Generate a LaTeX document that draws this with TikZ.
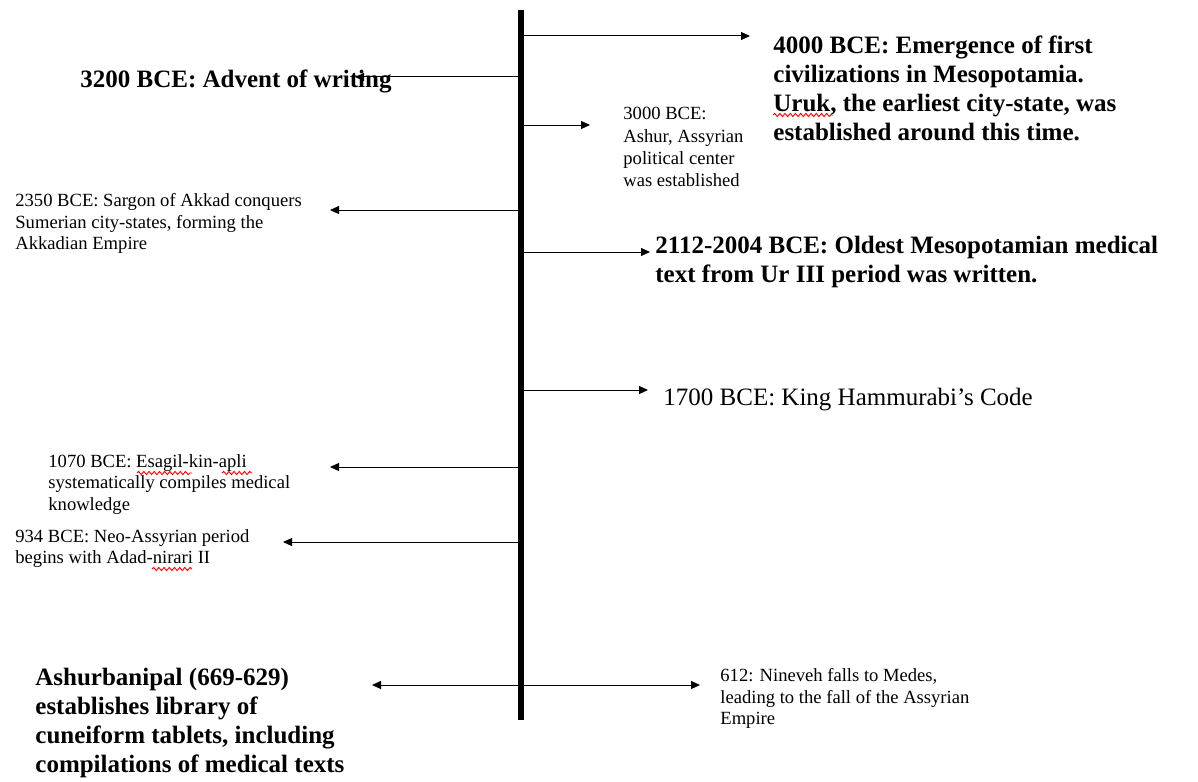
\documentclass[tikz,border=0pt]{standalone}
\usepackage{fontspec}
\setmainfont{Liberation Serif}
\usepackage{tikz}
\usetikzlibrary{positioning,arrows.meta,decorations.pathmorphing}

\begin{document}
\begin{tikzpicture}[x=0.5pt,y=-0.5pt,
spine/.style={line width=3pt},
evt/.style={line width=0.5pt,-{Triangle[length=4.5pt,width=4pt]}},
evtboth/.style={line width=0.5pt,{Triangle[length=4.5pt,width=4pt]}-{Triangle[length=4.5pt,width=4pt]}},
bigtxt/.style={anchor=north west,inner sep=0pt,align=left,font=\fontsize{12.5}{14.5}\selectfont\bfseries},
midtxt/.style={anchor=north west,inner sep=0pt,align=left,font=\fontsize{12.5}{14.5}\selectfont},
smalltxt/.style={anchor=north west,inner sep=0pt,align=left,font=\fontsize{9.3}{10.8}\selectfont},
spell/.style={red,line width=0.45pt,decorate,decoration={snake,segment length=2.6pt,amplitude=0.8pt}}]
\useasboundingbox (0,0) rectangle (1198,781);
\coordinate (top) at (521,10);
\coordinate (bot) at (521,720);

\node[bigtxt] (e4000) at (773,35) {4000 BCE: Emergence of first\\civilizations in Mesopotamia.\\Uruk, the earliest city-state, was\\established around this time.};
\node[bigtxt] (e3200) at (80,69) {3200 BCE: Advent of writing};
\node[smalltxt,font=\fontsize{9.3}{11.2}\selectfont] (e3000) at (623,107) {3000 BCE:\\Ashur, Assyrian\\political center\\was established};
\node[smalltxt] (e2350) at (15,193) {2350 BCE: Sargon of Akkad conquers\\Sumerian city-states, forming the\\Akkadian Empire};
\node[bigtxt] (e2112) at (655,236) {2112-2004 BCE: Oldest Mesopotamian medical\\text from Ur III period was written.};
\node[midtxt] (e1700) at (663,388) {1700 BCE: King Hammurabi’s Code};
\node[smalltxt] (e1070) at (48,454) {1070 BCE: Esagil-kin-apli\\systematically compiles medical\\knowledge};
\node[smalltxt] (e934) at (15,529) {934 BCE: Neo-Assyrian period\\begins with Adad-nirari II};
\node[bigtxt] (e669) at (35,668) {Ashurbanipal (669-629)\\establishes library of\\cuneiform tablets, including\\compilations of medical texts};
\node[smalltxt] (e612) at (720,668) {612: Nineveh falls to Medes,\\leading to the fall of the Assyrian\\Empire};

\draw[spell] (773,115) -- (833,115);
\draw[spell] (137,473) -- (192,473);
\draw[spell] (222,473) -- (252,473);
\draw[spell] (152,569) -- (192,569);

\coordinate (s4000) at (521,36);   \coordinate (p4000) at (750,36);
\coordinate (s3200) at (521,77);   \coordinate (p3200) at (355,77);
\coordinate (s3000) at (521,125);  \coordinate (p3000) at (590,125);
\coordinate (s2350) at (521,210);  \coordinate (p2350) at (330,210);
\coordinate (s2112) at (521,252);  \coordinate (p2112) at (650,252);
\coordinate (s1700) at (521,390);  \coordinate (p1700) at (648,390);
\coordinate (s1070) at (521,467);  \coordinate (p1070) at (330,467);
\coordinate (s934) at (521,542);   \coordinate (p934) at (283,542);
\coordinate (p669) at (372,685);   \coordinate (p612) at (700,685);

\draw[evt] (s4000) -- (p4000);
\draw[evt] (s3200) -- (p3200);
\draw[evt] (s3000) -- (p3000);
\draw[evt] (s2350) -- (p2350);
\draw[evt] (s2112) -- (p2112);
\draw[evt] (s1700) -- (p1700);
\draw[evt] (s1070) -- (p1070);
\draw[evt] (s934) -- (p934);
\draw[evtboth] (p669) -- (p612);
\draw[spine] (top) -- (bot);
\end{tikzpicture}
\end{document}
